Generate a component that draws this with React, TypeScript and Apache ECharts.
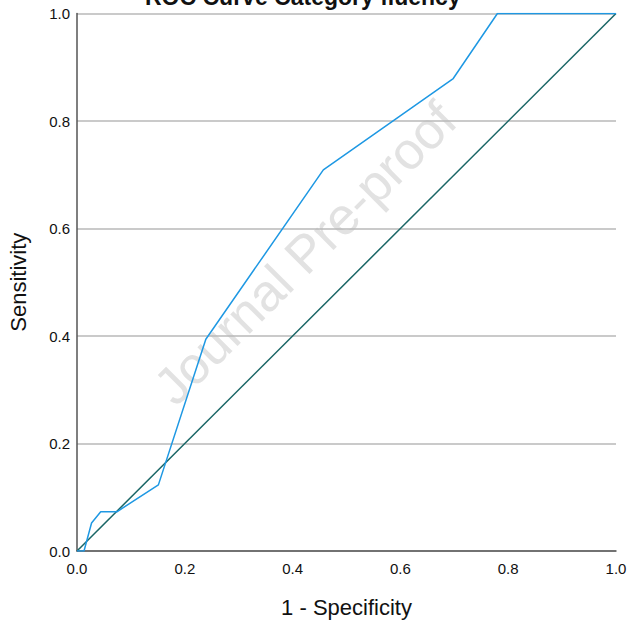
import React, { useEffect, useRef } from "react";
import * as echarts from "echarts";

const titleText = "ROC Curve Category fluency";
const xName = "1 - Specificity";
const yName = "Sensitivity";
const watermark = "Journal Pre-proof";

// ROC curve points (1 - specificity, sensitivity)
const rocX = [0, 0.013, 0.027, 0.044, 0.074, 0.151, 0.239, 0.457, 0.698, 0.780, 1.0];
const rocY = [0, 0, 0.052, 0.073, 0.073, 0.123, 0.394, 0.709, 0.879, 1.0, 1.0];

// reference diagonal
const diagX = [0, 1];
const diagY = [0, 1];

const FONT = "Liberation Sans, Arial, sans-serif";

export default function App() {
  const ref = useRef<HTMLDivElement>(null);
  useEffect(() => {
    if (!ref.current) return;
    const chart = echarts.init(ref.current, undefined, { renderer: "svg" });
    chart.setOption({
      animation: false,
      backgroundColor: "#ffffff",
      grid: { left: 77, right: 13, top: 13.5, bottom: 72, containLabel: false, outerBoundsMode: "none" },
      title: {
        text: titleText,
        left: 145,
        top: -15,
        padding: 0,
        textStyle: { fontFamily: FONT, fontSize: 23, fontWeight: "bold", color: "#111" },
      },
      xAxis: {
        type: "value",
        min: 0,
        max: 1,
        interval: 0.2,
        name: xName,
        nameLocation: "middle",
        nameGap: 45,
        nameTextStyle: { fontFamily: FONT, fontSize: 22, color: "#111" },
        axisLine: { show: true, lineStyle: { color: "#555", width: 1.5 } },
        axisTick: { show: false },
        splitLine: { show: false },
        axisLabel: {
          fontFamily: FONT,
          fontSize: 15,
          color: "#111",
          margin: 10,
          formatter: (v: number) => v.toFixed(1),
        },
      },
      yAxis: {
        type: "value",
        min: 0,
        max: 1,
        interval: 0.2,
        name: yName,
        nameLocation: "middle",
        nameGap: 48,
        nameTextStyle: { fontFamily: FONT, fontSize: 22, color: "#111" },
        axisLine: { show: true, lineStyle: { color: "#555", width: 1.5 } },
        axisTick: { show: false },
        splitLine: { show: true, lineStyle: { color: "#b8b8b8", width: 1.5 } },
        axisLabel: {
          fontFamily: FONT,
          fontSize: 15,
          color: "#111",
          margin: 7,
          formatter: (v: number) => v.toFixed(1),
        },
      },
      graphic: [
        {
          type: "text",
          x: 305,
          y: 253,
          rotation: Math.PI / 4,
          z: 0,
          style: {
            text: watermark,
            fontFamily: FONT,
            fontSize: 52,
            fill: "#e2e2e2",
            textAlign: "center",
            textVerticalAlign: "middle",
          },
        },
      ],
      series: [
        {
          type: "line",
          data: diagX.map((x, i) => [x, diagY[i]]),
          showSymbol: false,
          lineStyle: { color: "#1a6666", width: 1.5 },
          z: 3,
        },
        {
          type: "line",
          data: rocX.map((x, i) => [x, rocY[i]]),
          showSymbol: false,
          lineStyle: { color: "#1e98e3", width: 1.5 },
          z: 4,
        },
      ],
    });
    return () => chart.dispose();
  }, []);
  return <div ref={ref} style={{ width: 629, height: 623, position: "absolute", left: 0, top: 0 }} />;
}
